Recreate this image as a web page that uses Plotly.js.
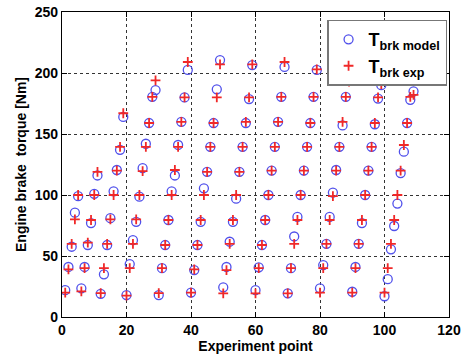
<!DOCTYPE html>
<html><head><meta charset="utf-8">
<script src="https://cdn.plot.ly/plotly-3.0.1.min.js"></script>
<style>html,body{margin:0;padding:0;background:#fff;}#chart{width:465px;height:357px;}</style>
</head><body><div id="chart"></div>
<script>
const xPoints = [];
for (let i = 1; i <= 109; i++) xPoints.push(i);
const modelTorque = [22,41,57.6,85.5,99,
 23.5,41,59,77,101,116,
 19,35,59,81,103,120.5,137,164,
 18,43.4,63,78,98.6,122,142,159,180.5,186,
 18,40,59,79.5,103,116,141,160,180,202.5,
 20,38.5,59,78,105.5,119,139.5,159,186.6,210.6,
 24.3,41,61.7,78,97,119,139.5,159,178.6,206.5,
 22,40.7,59,79.5,100,120,139.5,160,180.5,205,
 19.4,40,66,82,100,120,139.5,159,180.5,202.5,
 23.5,42.6,60,82,102,120.5,139.5,157,180.5,194,
 20.7,41,60,77,100,120,139.5,158,179,190,
 17,31,55.5,74.6,93,118,135.5,159,178,185];
const expTorque = [20,39,60,80,100,
 21,40,61,79.5,100,119,
 19.5,40,60,80,100,120,139.5,167,
 17.5,40,60,80,100,119.5,139.5,159,180.5,194,
 19.5,40,59,79.5,100,120.5,139.5,160,180,209,
 20,39,59,79.5,100,119,139.5,159,180,207,
 19.4,38.5,60,79.5,100,119,139.5,160,180,207,
 19.4,40,59,79.5,100,120,139.5,160,180.5,209,
 19.4,40,60,79.5,100,120,139.5,159,180.5,203,
 20,40,60,79.5,99,120,139.5,160,180.5,193,
 20,40,60,79.5,100,120,139.5,159,180,191,
 20,40,60,79.5,100,120,141,159,180.5,182];
const seriesNames = ['T<sub>brk model</sub>', 'T<sub>brk exp</sub>'];
const xTicks = [0,20,40,60,80,100,120];
const yTicks = [0,50,100,150,200,250];

const fnt = {family: 'Liberation Sans, Arial, sans-serif', size: 14, color: '#000', weight: 'bold'};
const traces = [
 {x: xPoints, y: modelTorque, name: seriesNames[0], type: 'scatter', mode: 'markers',
  marker: {symbol: 'circle-open', size: 9, color: 'rgb(80,80,235)', line: {width: 1.3}}},
 {x: xPoints, y: expTorque, name: seriesNames[1], type: 'scatter', mode: 'markers',
  marker: {symbol: 'cross-thin-open', size: 7, color: 'rgb(240,40,40)', line: {width: 1.8, color: 'rgb(240,40,40)'}}}
];
const axisCommon = {showline: true, mirror: 'ticks', linecolor: '#000', linewidth: 1.2,
  ticks: 'inside', ticklen: 5, tickcolor: '#000', showgrid: true, gridcolor: '#333',
  griddash: 'dot', gridwidth: 1, zeroline: false, tickfont: fnt};
const layout = {
 width: 465, height: 357,
 margin: {l: 62, r: 16, t: 12, b: 40},
 paper_bgcolor: '#fff', plot_bgcolor: '#fff',
 showlegend: true,
 legend: {x: 0.995, y: 0.975, xanchor: 'right', yanchor: 'top', bgcolor: '#fff',
   bordercolor: '#777', borderwidth: 1.5, font: {family: fnt.family, size: 18, color: '#000', weight: 'bold'},
   itemwidth: 30},
 xaxis: Object.assign({}, axisCommon, {range: [0, 120], tickvals: xTicks,
   title: {text: 'Experiment point', font: fnt, standoff: 2}}),
 yaxis: Object.assign({}, axisCommon, {range: [0, 250], tickvals: yTicks,
   title: {text: 'Engine brake  torque [Nm]', font: fnt, standoff: 4}})
};
Plotly.newPlot('chart', traces, layout, {displayModeBar: false, staticPlot: true});
</script></body></html>
